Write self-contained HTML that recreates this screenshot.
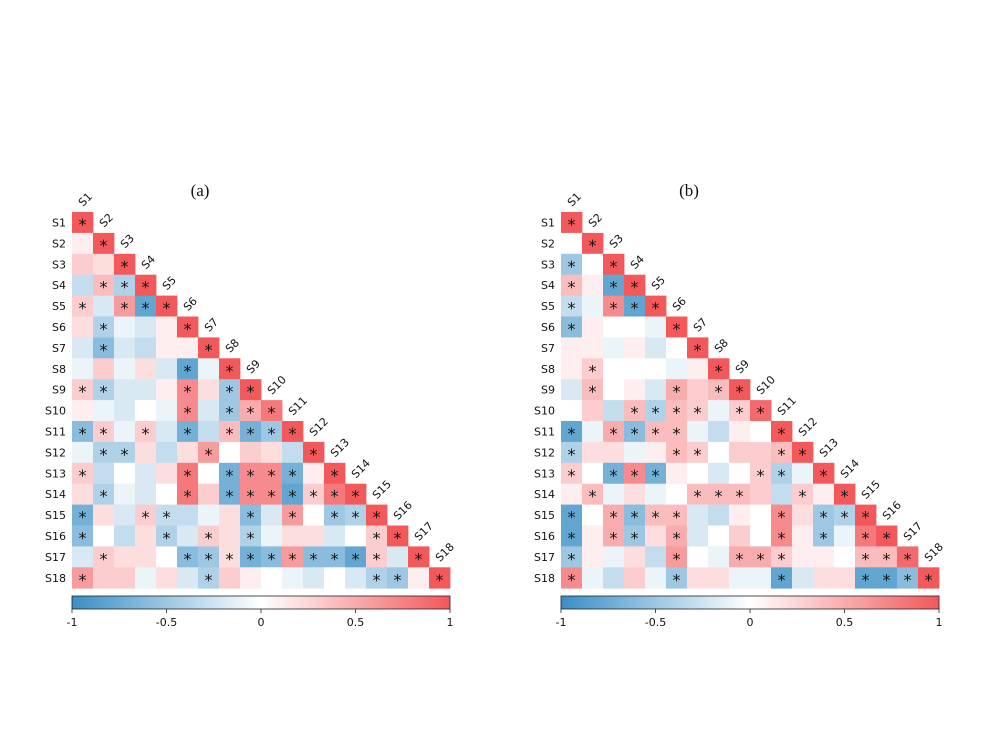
<!DOCTYPE html>
<html><head><meta charset="utf-8"><style>
body{margin:0;background:#fff;}
svg{display:block;}
text{font-family:"DejaVu Sans","Liberation Sans",sans-serif;font-size:11px;fill:#111;}
.t{font-family:"Liberation Serif",serif;font-size:17px;}
</style></head><body>
<svg id="s" width="1000" height="750" viewBox="0 0 1000 750" xmlns="http://www.w3.org/2000/svg">
<defs><linearGradient id="cb" x1="0" x2="1" y1="0" y2="0">
<stop offset="0" stop-color="rgb(58,143,198)"/><stop offset="0.5" stop-color="#fff"/><stop offset="1" stop-color="rgb(243,88,90)"/></linearGradient></defs>
<g id="ga"><text class="t" x="200" y="196" text-anchor="middle">(a)</text></g>
<g id="gb" transform="translate(489,0)"><text class="t" x="200" y="196" text-anchor="middle">(b)</text></g>
</svg>
<script>
const A=`10*
1 10*
3 2 10*
-3 4* -4* 10*
3* -2 6* -8* 10*
2 -4* -1 -2 1 10*
-2 -6* -2 -3 1 1 10*
-1 3 -1 2 -2 -8* -1 10*
3* -4* -2 -2 1 7* 2 -5* 10*
1 -1 -2 0 -1 7* -2 -5* 5* 8*
-6* 3* -1 3* -2 -7* -3 4* -7* -5* 10*
-1 -4* -4* 2 -3 2 6* 0 3 2 -3 10*
3* -3 0 -2 2 8* 0 -7* 7* 7* -7* 1 10*
2 -4* -1 -2 0 8* 3 -7* 7* 7* -8* 3* 8* 10*
-7* 2 -2 3* -3* -3 -1 2 -6* -2 6* 0 -5* -4* 10*
-6* 0 -3 2 -4* -2 3* 2 -4* -1 2 2 -2 0 3* 10*
-2 3* 2 2 0 -6* -5* 2* -7* -6* 6* -6* -6* -8* 3* -2 10*
6* 3 3 -1 2 -2 -4* 3 1 0 -1 -2 0 -2 -4* -5* 1 10*`;
const B=`10*
0 10*
-5* 0 10*
4* 1 -8* 10*
-3* -1 7* -8* 10*
-6* 1 0 0 -1 10*
1 1 -1 1 -2 0 10*
1 3* 0 0 0 -1 1 10*
-2 4* 0 1 -2 5* 3 4* 10*
0 3 -3 4* -4* 4* 3* -1 3* 9*
-8* -1 5* -6* 4* 4* -1 -3 1 0 10*
-4* 2 2 -1 1 4* 3* 0 3 3 4* 10*
3* 0 -7* 7* -7* 1 0 -2 0 3* -4* -1 10*
1 4* -1 2 -1 0 4* 4* 4* 3 -3 3* 1 10*
-8* 0 5* -6* 4* 4* -2 -3 1 0 7* 2 -5* -4* 10*
-8* 1 5* -5* 2 5* -2 0 3 0 7* 1 -5* -1 8* 10*
-5* 1 -1 2 -3 6* 0 -1 5* 5* 3* 1 1 0 4* 4* 9*
7* -1 -3 3 -1 -5* 2 2 -1 -1 -8* -2 2 2 -8* -8* -6* 10*`;
function col(v){v=Math.max(-1,Math.min(1,v/10));let c=v<0?[58,143,198]:[243,88,90];let t=Math.abs(v);
return `rgb(${Math.round(255+(c[0]-255)*t)},${Math.round(255+(c[1]-255)*t)},${Math.round(255+(c[2]-255)*t)})`;}
const NS="http://www.w3.org/2000/svg";
function el(n,a,p,txt){const e=document.createElementNS(NS,n);for(const k in a)e.setAttribute(k,a[k]);if(txt)e.textContent=txt;p.appendChild(e);return e;}
function draw(g,data){
 const rows=data.split("\n");
 rows.forEach((r,i)=>{r.trim().split(/\s+/).forEach((c,j)=>{
  const st=c.endsWith("*");const v=parseFloat(c);
  const x=72+21*j,y=212+20.9*i;
  el("rect",{x:x,y:y,width:21.4,height:21.3,fill:col(v)},g);
  if(st)el("text",{x:x+10.5,y:y+18,"text-anchor":"middle",style:"font-size:16px"},g,"*");
 });});
 for(let i=0;i<18;i++){
  el("text",{x:66,y:212+20.9*i+14.5,"text-anchor":"end"},g,"S"+(i+1));
  const cx=72+21*i+11,cy=212+20.9*i-5;
  el("text",{x:cx,y:cy,transform:`rotate(-45 ${cx} ${cy})`},g,"S"+(i+1));
 }
 el("rect",{x:72,y:596,width:378,height:13,fill:"url(#cb)",stroke:"#222","stroke-width":"0.8"},g);
 [["-1",72],["-0.5",166.5],["0",261],["0.5",355.5],["1",450]].forEach(([l,x])=>{
  el("line",{x1:x,x2:x,y1:609,y2:613,stroke:"#222","stroke-width":"0.8"},g);
  el("text",{x:x,y:626,"text-anchor":"middle"},g,l);});
}
draw(document.getElementById("ga"),A);
draw(document.getElementById("gb"),B);
</script>
</body></html>
